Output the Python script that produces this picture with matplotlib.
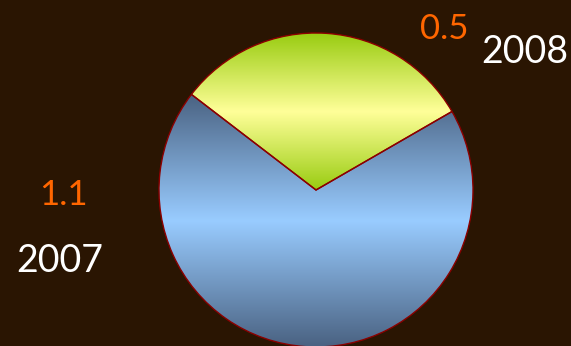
import numpy as np
import matplotlib
matplotlib.use("Agg")
import matplotlib.pyplot as plt
from matplotlib.colors import LinearSegmentedColormap

# data
years = ["2007", "2008"]
values = [1.1, 0.5]
value_labels = ["1.1", "0.5"]

# gradient colours per slice (edge, middle, edge)
grads = [["#4a6282", "#99ccff", "#4a6282"],
         ["#99cc11", "#ffff99", "#99cc11"]]

bg = "#2a1502"

fig = plt.figure(figsize=(5.71, 3.46), dpi=100)
fig.patch.set_facecolor(bg)
ax = fig.add_axes([0, 0, 1, 1])
ax.set_facecolor(bg)

# pie in pixel-like coords (y up)
cx, cy, r = 316, 346 - 190, 157
start = 142.5
wedges, _ = ax.pie(values, center=(cx, cy), radius=r, startangle=start,
                   counterclock=True, frame=True,
                   wedgeprops=dict(facecolor="none", edgecolor="#8b0000", linewidth=1))

for w, cols in zip(wedges, grads):
    ext = w.get_path().get_extents()
    cmap = LinearSegmentedColormap.from_list("g", cols)
    grad = np.linspace(0, 1, 256).reshape(-1, 1)
    im = ax.imshow(grad, cmap=cmap, aspect="auto", origin="lower",
                   extent=[ext.x0, ext.x1, ext.y0, ext.y1], zorder=1)
    im.set_clip_path(w)
    w.set_zorder(2)

ax.set_xlim(0, 571)
ax.set_ylim(0, 346)
ax.set_aspect("auto")
ax.axis("off")

font = "Lato"
# labels
ax.text(444, 346 - 29, value_labels[1], color="#ff6600", fontsize=25,
        family=font, ha="center", va="center")
ax.text(525, 346 - 52, years[1], color="white", fontsize=27,
        family=font, ha="center", va="center")
ax.text(63, 346 - 195, value_labels[0], color="#ff6600", fontsize=25,
        family=font, ha="center", va="center")
ax.text(60, 346 - 261, years[0], color="white", fontsize=27,
        family=font, ha="center", va="center")

fig.savefig("out.png", dpi=100, facecolor=bg)
